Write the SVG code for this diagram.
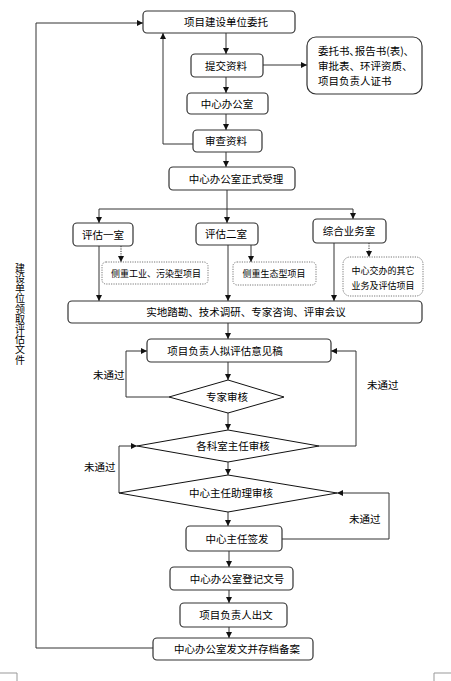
<svg xmlns="http://www.w3.org/2000/svg" width="451" height="681" viewBox="0 0 451 681">
<defs>
<marker id="ah" viewBox="0 0 6 6" refX="6" refY="3" markerWidth="6" markerHeight="6" markerUnits="userSpaceOnUse" orient="auto">
<path d="M0,0 L6,3 L0,6 Z" fill="#111"/>
</marker>
</defs>
<style>
.bx{fill:#fff;stroke:#333;stroke-width:1.2}
.dt{fill:#fff;stroke:#777;stroke-width:1;stroke-dasharray:1.2 1.2}
.dm{fill:#fff;stroke:#111;stroke-width:1}
.t{font-family:"Noto Sans CJK SC","Liberation Sans",sans-serif;font-size:10.5px;fill:#000;text-anchor:middle}
.s{font-family:"Noto Sans CJK SC","Liberation Sans",sans-serif;font-size:9px;fill:#000;text-anchor:middle}
.l{font-family:"Noto Sans CJK SC","Liberation Sans",sans-serif;font-size:10.5px;fill:#000}
.c{fill:none;stroke:#333;stroke-width:1}
.a{fill:none;stroke:#333;stroke-width:1;marker-end:url(#ah)}
.d{fill:none;stroke:#333;stroke-width:1;stroke-dasharray:1.2 1.2;marker-end:url(#ah)}
.cm{fill:none;stroke:#999;stroke-width:1}
</style>

<g id="connectors">
<path class="a" d="M36,648 V23 H143"/>
<path class="c" d="M36,648 H153"/>
<path class="a" d="M226,33 V54"/>
<path class="a" d="M263,65 H307"/>
<path class="a" d="M226,77 V93"/>
<path class="a" d="M226,114 V130"/>
<path class="a" d="M193,144 H163 V33"/>
<path class="a" d="M226,152 V167"/>
<path class="c" d="M227,190 V209"/>
<path class="c" d="M99,209 H353"/>
<path class="a" d="M227,209 V223"/>
<path class="a" d="M99,209 V223"/>
<path class="a" d="M353,209 V219"/>
<path class="d" d="M121,246 V262"/>
<path class="a" d="M251,245 V262"/>
<path class="d" d="M369,243 V257"/>
<path class="a" d="M99,246 V301"/>
<path class="a" d="M228,245 V301"/>
<path class="a" d="M334,243 V301"/>
<path class="a" d="M228,323 V339"/>
<path class="a" d="M228,362 V380"/>
<path class="a" d="M169,397 H126 V351 H147"/>
<path class="a" d="M228,413 V430"/>
<path class="a" d="M319,446 H356 V351 H331"/>
<path class="a" d="M228,462 V475"/>
<path class="a" d="M119,493 V446 H137"/>
<path class="a" d="M228,512 V526"/>
<path class="a" d="M282,539 H389 V493 H337"/>
<path class="a" d="M229,551 V567"/>
<path class="a" d="M229,590 V603"/>
<path class="a" d="M229,627 V638"/>
</g>

<g id="n-entrust"><rect class="bx" x="143" y="11" width="152" height="22" rx="4"/><text class="t" x="226" y="26">项目建设单位委托</text></g>
<g id="n-submit"><rect class="bx" x="191" y="54" width="72" height="23" rx="4"/><text class="t" x="226" y="69.5">提交资料</text></g>
<g id="n-docs"><rect class="bx" x="307" y="37" width="115" height="57" rx="9"/>
<text class="l" x="318" y="55">委托书､报告书(表)､</text>
<text class="l" x="318" y="70">审批表、环评资质、</text>
<text class="l" x="318" y="85">项目负责人证书</text></g>
<g id="n-office"><rect class="bx" x="187" y="93" width="81" height="21" rx="4"/><text class="t" x="227" y="107.5">中心办公室</text></g>
<g id="n-review"><rect class="bx" x="193" y="130" width="69" height="22" rx="4"/><text class="t" x="226" y="145">审查资料</text></g>
<g id="n-accept"><rect class="bx" x="169" y="167" width="126" height="23" rx="4"/><text class="t" x="236" y="182.5">中心办公室正式受理</text></g>
<g id="n-room1"><rect class="bx" x="73" y="223" width="60" height="23" rx="4"/><text class="t" x="103" y="238.5">评估一室</text></g>
<g id="n-room2"><rect class="bx" x="196" y="223" width="62" height="22" rx="4"/><text class="t" x="226" y="238">评估二室</text></g>
<g id="n-room3"><rect class="bx" x="313" y="219" width="73" height="24" rx="4"/><text class="t" x="349" y="235">综合业务室</text></g>
<g id="n-note1"><rect class="dt" x="102" y="262" width="106" height="22" rx="4"/><text class="s" x="156" y="276.5">侧重工业、污染型项目</text></g>
<g id="n-note2"><rect class="dt" x="233" y="262" width="83" height="23" rx="4"/><text class="s" x="274" y="277">侧重生态型项目</text></g>
<g id="n-note3"><rect class="dt" x="343" y="257" width="80" height="39" rx="7"/><text class="s" x="383" y="274">中心交办的其它</text><text class="s" x="383" y="289">业务及评估项目</text></g>
<g id="n-survey"><rect class="bx" x="68" y="301" width="354" height="22" rx="4"/><text class="t" x="246" y="316">实地踏勘、技术调研、专家咨询、评审会议</text></g>
<g id="n-draft"><rect class="bx" x="147" y="339" width="184" height="23" rx="4"/><text class="t" x="225" y="354.5">项目负责人拟评估意见稿</text></g>
<g id="n-expert"><polygon class="dm" points="228,380 284,397 228,413 169,397"/><text class="t" x="227" y="401">专家审核</text></g>
<g id="n-dept"><polygon class="dm" points="228,430 319,446 228,462 137,446"/><text class="t" x="233" y="450">各科室主任审核</text></g>
<g id="n-assist"><polygon class="dm" points="228,475 337,493 228,512 119,493"/><text class="t" x="231" y="497">中心主任助理审核</text></g>
<g id="n-sign"><rect class="bx" x="186" y="526" width="96" height="25" rx="4"/><text class="t" x="237" y="542.5">中心主任签发</text></g>
<g id="n-register"><rect class="bx" x="170" y="567" width="123" height="23" rx="4"/><text class="t" x="237" y="582.5">中心办公室登记文号</text></g>
<g id="n-issue"><rect class="bx" x="180" y="603" width="107" height="24" rx="4"/><text class="t" x="236" y="619">项目负责人出文</text></g>
<g id="n-archive"><rect class="bx" x="153" y="638" width="160" height="22" rx="4"/><text class="t" x="237" y="653">中心办公室发文并存档备案</text></g>

<g id="labels">
<text class="l" x="93" y="379">未通过</text>
<text class="l" x="367" y="389">未通过</text>
<text class="l" x="84" y="471">未通过</text>
<text class="l" x="349" y="523">未通过</text>
<text class="l" x="20" y="263" style="writing-mode:vertical-rl;font-size:10px;letter-spacing:0.2px" text-anchor="start">建设单位领取评估文件</text>
</g>

<g id="marks">
<path class="cm" d="M0,673 H17 V681"/>
<path class="cm" d="M434,681 V673 H451"/>
</g>
</svg>
